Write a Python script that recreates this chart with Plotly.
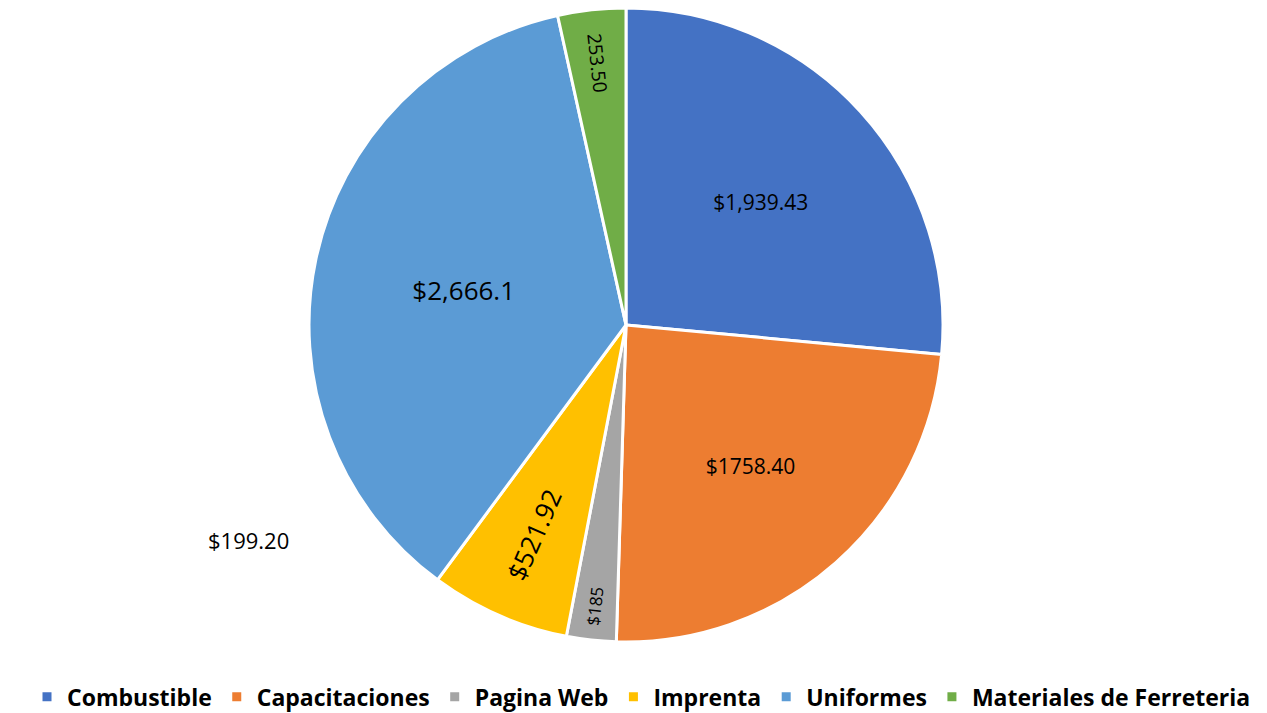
import plotly.graph_objects as go

categories = ["Combustible", "Capacitaciones", "Pagina Web", "Imprenta", "Uniformes", "Materiales de Ferreteria"]
values = [1939.43, 1758.40, 185.00, 521.92, 2666.10, 253.50]
label_texts = ["$1,939.43", "$1758.40", "$185", "$521.92", "$2,666.1", "253.50"]
radial_slices = ["Pagina Web", "Imprenta", "Materiales de Ferreteria"]
label_sizes = [21, 21, 17, 26, 26, 19]
colors = ["#4472C4", "#ED7D31", "#A5A5A5", "#FFC000", "#5B9BD5", "#70AD47"]
stray_label = "$199.20"

font_family = "Open Sans, Noto Sans, Liberation Sans, sans-serif"

horiz_text = [t if c not in radial_slices else "" for c, t in zip(categories, label_texts)]
radial_text = [t if c in radial_slices else "" for c, t in zip(categories, label_texts)]

fig = go.Figure()
fig.add_trace(go.Pie(
    labels=categories, values=values, sort=False, direction="clockwise", rotation=0,
    marker=dict(colors=colors, line=dict(color="white", width=3)),
    text=horiz_text, textinfo="text", textposition="inside",
    insidetextorientation="horizontal",
    textfont=dict(size=label_sizes, color="black", family=font_family),
    hoverinfo="label+value", showlegend=True,
))
fig.add_trace(go.Pie(
    labels=categories, values=values, sort=False, direction="clockwise", rotation=0,
    marker=dict(colors=["rgba(0,0,0,0)"] * len(categories), line=dict(width=0)),
    text=radial_text, textinfo="text", textposition="inside",
    insidetextorientation="radial",
    textfont=dict(size=label_sizes, color="black", family=font_family),
    hoverinfo="skip", showlegend=False,
))

fig.add_annotation(text=stray_label, x=0.16, y=0.134, xref="paper", yref="paper",
                   showarrow=False, font=dict(size=22, color="black", family=font_family))

fig.update_layout(
    width=1267, height=713,
    margin=dict(l=0, r=31, t=0, b=79),
    paper_bgcolor="white", plot_bgcolor="white",
    legend=dict(orientation="h", x=0.5, xanchor="center", y=0.034, yanchor="middle",
                yref="container", xref="container",
                font=dict(size=23, color="black", family="Open Sans, sans-serif", weight="bold"),
                traceorder="normal"),
)

fig.write_html("out.html")
